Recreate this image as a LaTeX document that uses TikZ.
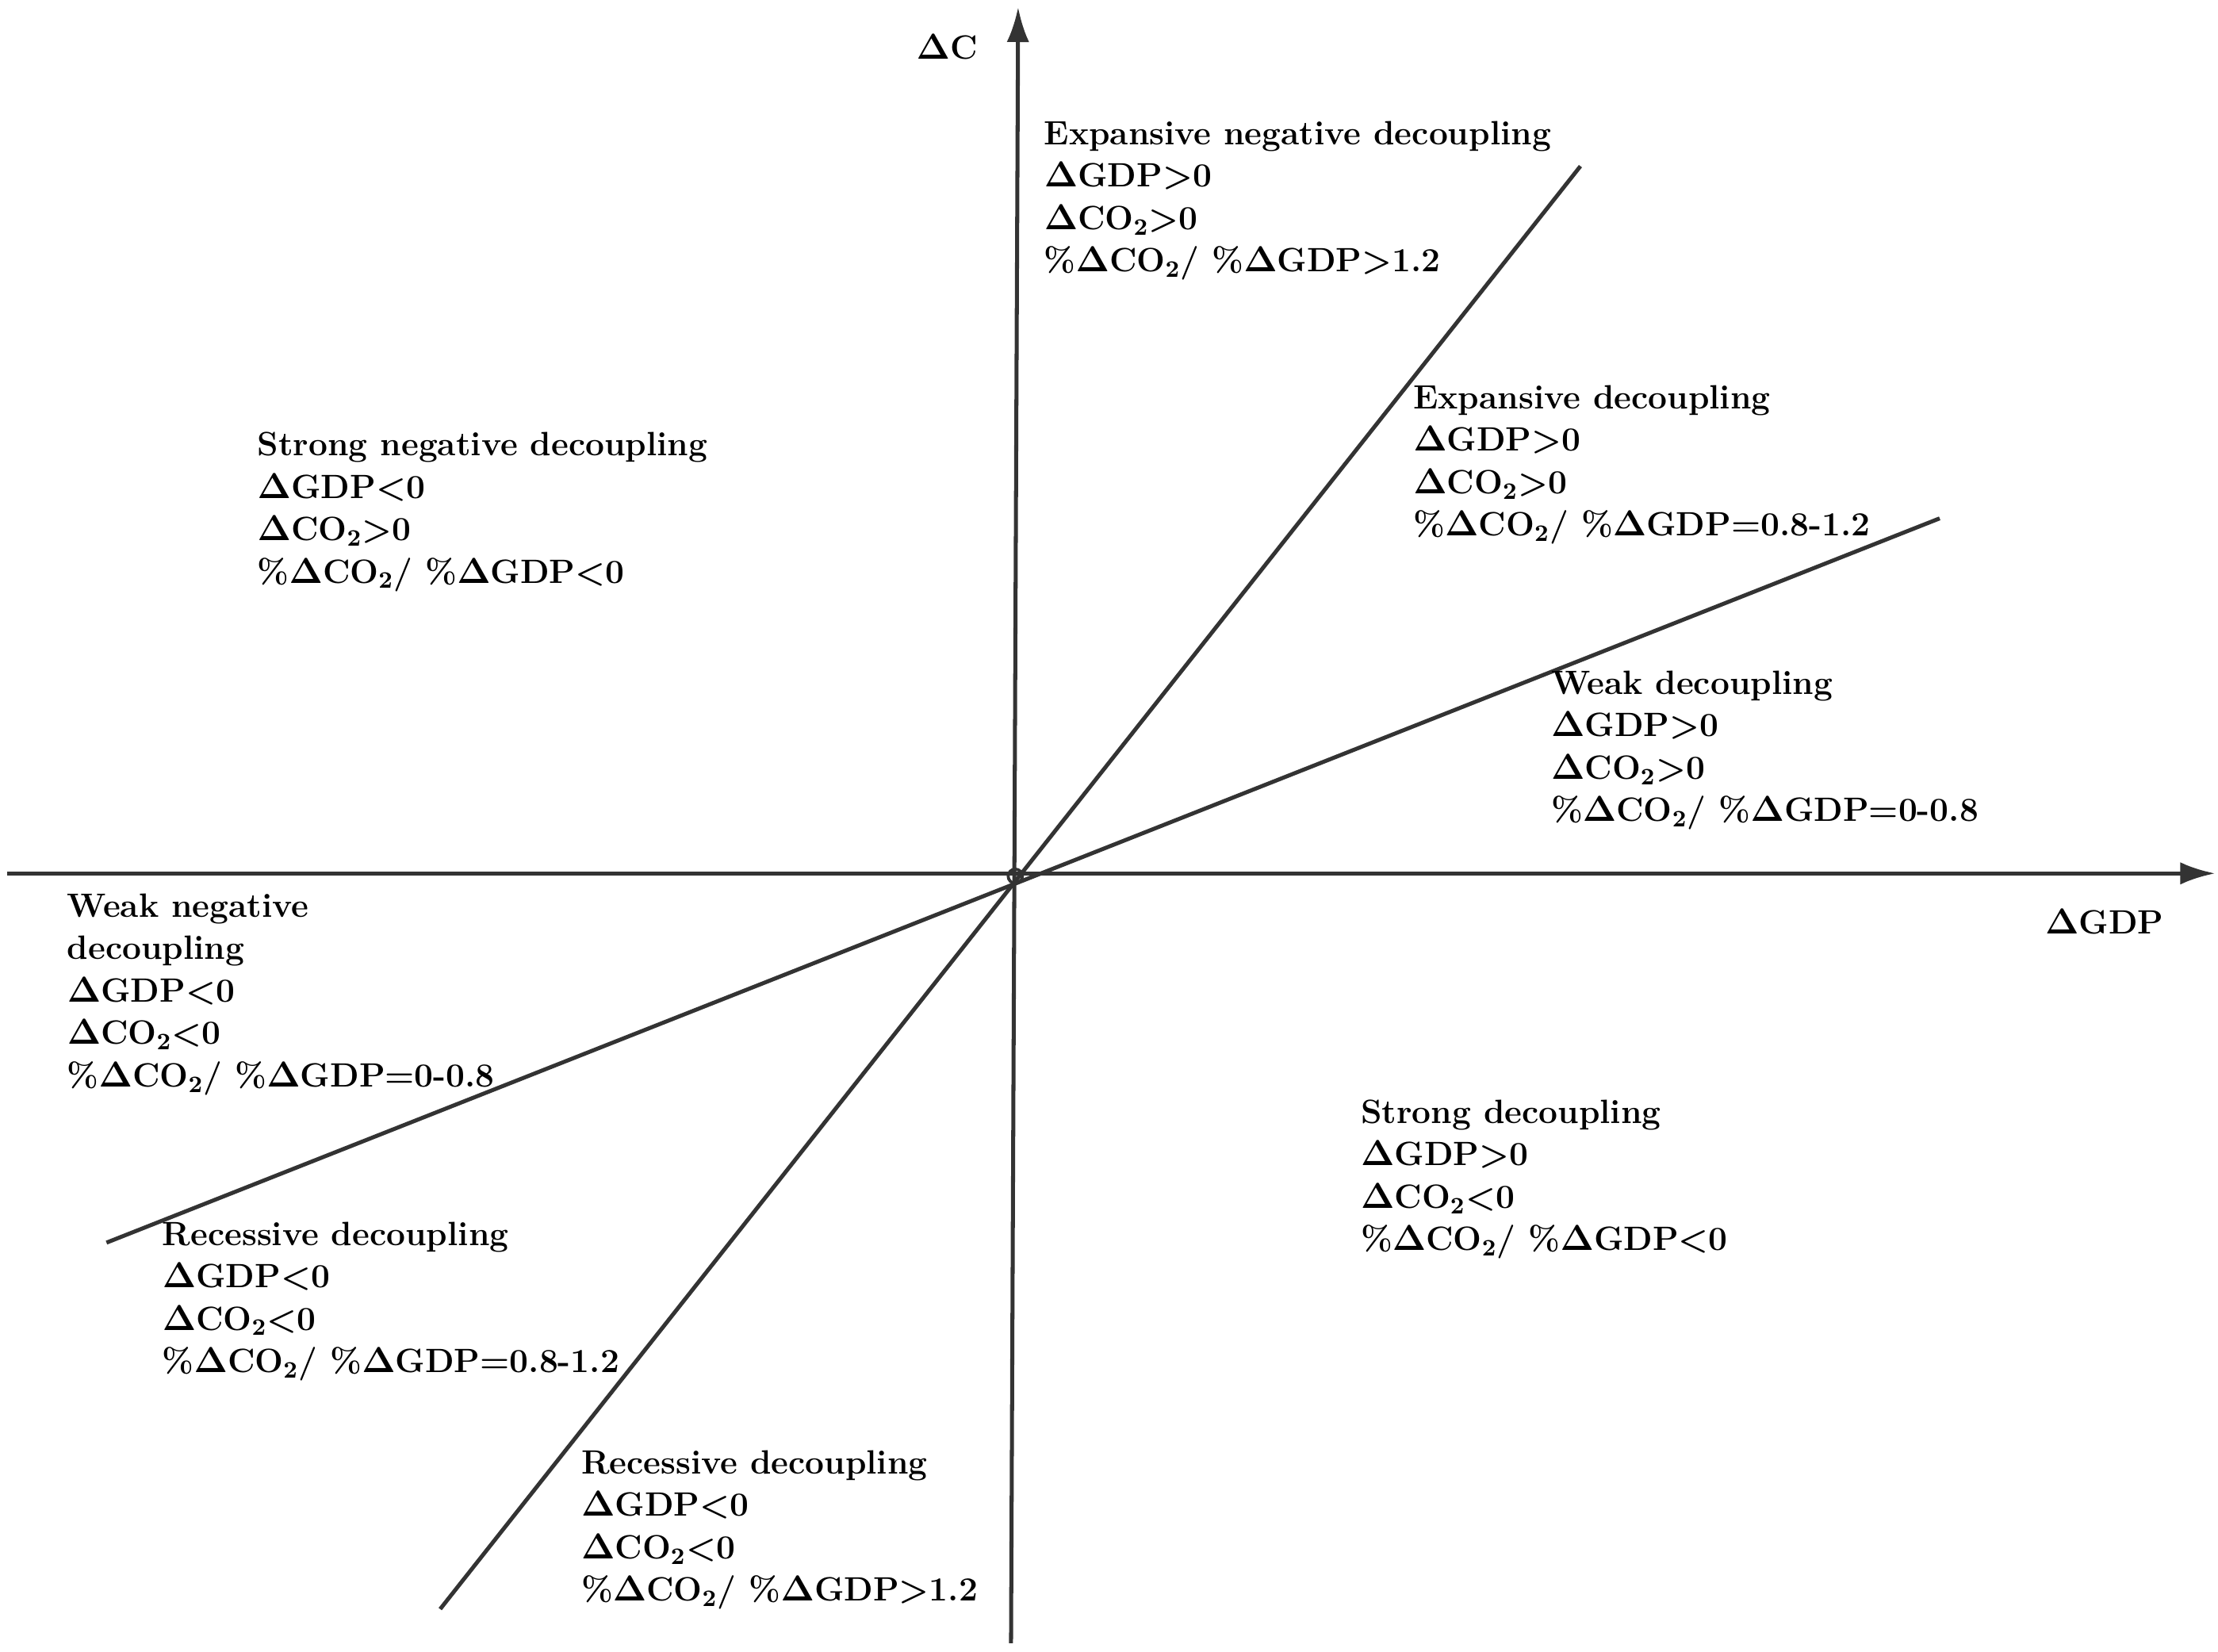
\documentclass[tikz,border=0pt]{standalone}
\usetikzlibrary{arrows.meta}
\begin{document}
\begin{tikzpicture}[x=0.02cm,y=-0.02cm,
  ax/.style={line width=1.6pt,draw=black!80,-{Latex[length=14pt,width=9pt]}},
  ln/.style={line width=1.6pt,draw=black!80},
  lab/.style={anchor=north west,inner sep=0pt,align=left,font=\fontsize{13.5}{17}\selectfont\bfseries\boldmath}]
\useasboundingbox (0,0) rectangle (1562,1163);
\coordinate (o) at (715,617);
\coordinate (vb) at (712,1157);
\coordinate (vt) at (717,5);
\coordinate (hl) at (5,615);
\coordinate (hr) at (1560,615);
\draw[ax] (vb) -- (vt);
\draw[ax] (hl) -- (hr);
\coordinate (a1) at (310,1133); \coordinate (a2) at (1113,117);
\coordinate (b1) at (75,875); \coordinate (b2) at (1366,365);
\draw[ln] (a1) -- (a2);
\draw[ln] (b1) -- (b2);
\draw[line width=1.2pt,draw=black!80] (o) circle[radius=5];
\node[lab] (dc) at (645,24) {$\Delta$C};
\node[lab] (dg) at (1440,640) {$\Delta$GDP};
\node[lab] (t1) at (735,85) {Expansive negative decoupling\\$\Delta$GDP>0\\$\Delta$CO\textsubscript{2}>0\\\%$\Delta$CO\textsubscript{2}/ \%$\Delta$GDP>1.2};
\node[lab] (t2) at (181,304) {Strong negative decoupling\\$\Delta$GDP<0\\$\Delta$CO\textsubscript{2}>0\\\%$\Delta$CO\textsubscript{2}/ \%$\Delta$GDP<0};
\node[lab] (t3) at (995,271) {Expansive decoupling\\$\Delta$GDP>0\\$\Delta$CO\textsubscript{2}>0\\\%$\Delta$CO\textsubscript{2}/ \%$\Delta$GDP=0.8-1.2};
\node[lab] (t4) at (1092,472) {Weak decoupling\\$\Delta$GDP>0\\$\Delta$CO\textsubscript{2}>0\\\%$\Delta$CO\textsubscript{2}/ \%$\Delta$GDP=0-0.8};
\node[lab] (t5) at (47,629) {Weak negative\\decoupling\\$\Delta$GDP<0\\$\Delta$CO\textsubscript{2}<0\\\%$\Delta$CO\textsubscript{2}/ \%$\Delta$GDP=0-0.8};
\node[lab] (t6) at (958,774) {Strong decoupling\\$\Delta$GDP>0\\$\Delta$CO\textsubscript{2}<0\\\%$\Delta$CO\textsubscript{2}/ \%$\Delta$GDP<0};
\node[lab] (t7) at (114,860) {Recessive decoupling\\$\Delta$GDP<0\\$\Delta$CO\textsubscript{2}<0\\\%$\Delta$CO\textsubscript{2}/ \%$\Delta$GDP=0.8-1.2};
\node[lab] (t8) at (409,1021) {Recessive decoupling\\$\Delta$GDP<0\\$\Delta$CO\textsubscript{2}<0\\\%$\Delta$CO\textsubscript{2}/ \%$\Delta$GDP>1.2};
\end{tikzpicture}
\end{document}
